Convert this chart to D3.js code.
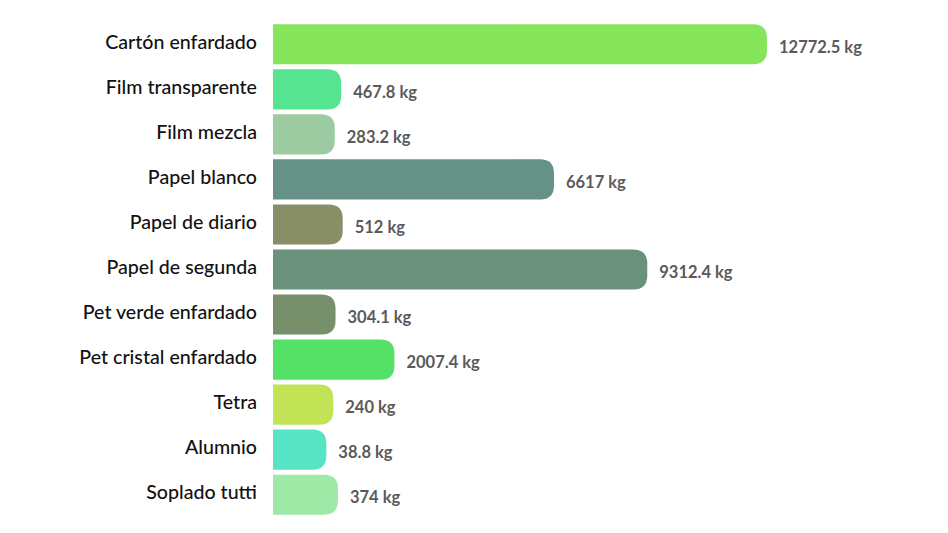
<!DOCTYPE html>
<html>
<head>
<meta charset="utf-8">
<script src="https://cdn.jsdelivr.net/npm/d3@7"></script>
<style>
  body { margin: 0; background: #fff; }
  svg { display: block; }
</style>
</head>
<body>
<div id="chart"></div>
<script>
// materials and collected kg
const categories = [
  "Cartón enfardado", "Film transparente", "Film mezcla", "Papel blanco",
  "Papel de diario", "Papel de segunda", "Pet verde enfardado",
  "Pet cristal enfardado", "Tetra", "Alumnio", "Soplado tutti"
];
const values = [12772.5, 467.8, 283.2, 6617, 512, 9312.4, 304.1, 2007.4, 240, 38.8, 374];
const colors = [
  "#86e55a", "#57e491", "#9dcba1", "#669187", "#888f67", "#69917b",
  "#778f6a", "#55e166", "#c2e356", "#56e4c4", "#9de9a5"
];

const width = 948, height = 533;
const barStart = 273;

const svg = d3.select("#chart")
  .append("svg")
  .attr("width", width)
  .attr("height", height);

// bars start with a fixed base, then grow linearly
const x = d3.scaleLinear()
  .domain([0, d3.max(values)])
  .range([barStart + 52, 767]);

const y = d3.scaleBand()
  .domain(categories)
  .range([22, 517])
  .paddingInner(0.11)
  .paddingOuter(0.05);

const data = categories.map((c, i) => ({ name: c, value: values[i], color: colors[i] }));

// bar shape: square left, rounded right
function barPath(d) {
  const x0 = barStart, x1 = x(d.value);
  const y0 = y(d.name), h = y.bandwidth();
  const r = Math.min(14, (x1 - x0) / 2);
  return `M${x0},${y0}H${x1 - r}Q${x1},${y0} ${x1},${y0 + r}V${y0 + h - r}Q${x1},${y0 + h} ${x1 - r},${y0 + h}H${x0}Z`;
}

svg.selectAll(".bar")
  .data(data)
  .enter()
  .append("path")
  .attr("class", "bar")
  .attr("d", barPath)
  .style("fill", d => d.color);

// category labels
svg.selectAll(".cat")
  .data(data)
  .enter()
  .append("text")
  .attr("class", "cat")
  .attr("x", barStart - 16)
  .attr("y", d => y(d.name) + y.bandwidth() / 2 - 2)
  .attr("dy", "0.32em")
  .attr("text-anchor", "end")
  .style("font-family", "Lato, 'Noto Sans', sans-serif")
  .style("font-size", "19.6px")
  .style("font-weight", "500")
  .style("fill", "#111")
  .text(d => d.name);

// value labels
svg.selectAll(".val")
  .data(data)
  .enter()
  .append("text")
  .attr("class", "val")
  .attr("x", d => x(d.value) + 12)
  .attr("y", d => y(d.name) + y.bandwidth() / 2 + 3)
  .attr("dy", "0.32em")
  .style("font-family", "Lato, 'Noto Sans', sans-serif")
  .style("font-size", "16.5px")
  .style("font-weight", "700")
  .style("fill", "#5a5a5a")
  .text(d => d.value + " kg");
</script>
</body>
</html>
